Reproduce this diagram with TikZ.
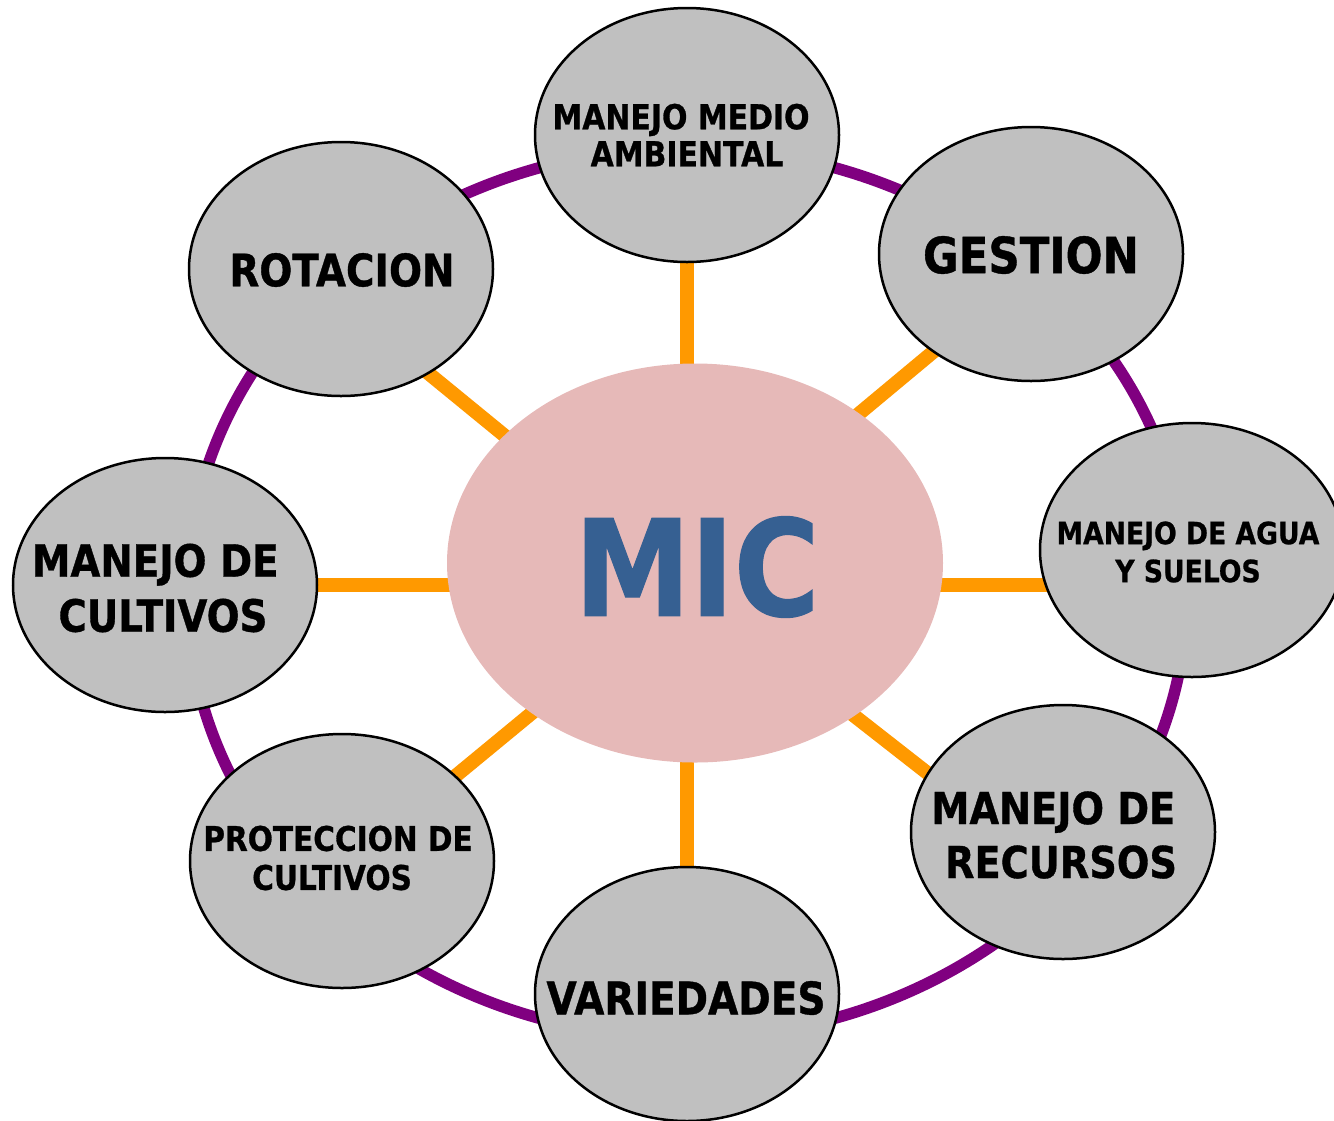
\documentclass[tikz,border=0pt]{standalone}
\usepackage{fontspec}
\newfontfamily\tf{DejaVu Sans Bold}[FakeStretch=0.87,FakeBold=0.8]
\usetikzlibrary{shapes.geometric,calc}
\definecolor{satgray}{HTML}{C0C0C0}
\definecolor{micpink}{HTML}{E6B9B8}
\definecolor{micblue}{HTML}{366092}
\definecolor{spokeorange}{HTML}{FF9900}
\definecolor{ringpurple}{HTML}{800080}
\pgfdeclarelayer{bg}
\pgfsetlayers{bg,main}
\newcommand\trsp{\hbox to 0.348em{}}
\begin{document}
\begin{tikzpicture}[x=1pt,y=-1pt,
  sat/.style={ellipse,draw=black,line width=2.5pt,fill=satgray,
    minimum width=304pt,minimum height=254pt,inner sep=0pt},
  lbl/.style={inner sep=0pt,align=center,text=black},
  spoke/.style={draw=spokeorange,line width=14pt},
  ringline/.style={draw=ringpurple,line width=11.5pt}]
\useasboundingbox (0,0) rectangle (1334,1120);

\node[ellipse,fill=micpink,minimum width=496pt,minimum height=399pt,inner sep=0pt] (mic) at (695,563) {};
\node[lbl,text=micblue,font={\tf\fontsize{134}{134}\selectfont}] (mict) at (697,567) {MIC};

\node[sat] (medio) at (687,135) {};
\node[sat] (gestion) at (1031,254) {};
\node[sat] (agua) at (1192,550) {};
\node[sat] (recursos) at (1063,832) {};
\node[sat] (var) at (687,994) {};
\node[sat] (protec) at (342,861) {};
\node[sat] (cult) at (165,585) {};
\node[sat] (rot) at (341,269) {};

\node[lbl,font={\tf\fontsize{34.4}{37}\selectfont}] (mediot) at (687,135) {MANEJO MEDIO\trsp\\AMBIENTAL};
\node[lbl,font={\tf\fontsize{50}{56}\selectfont}] (gestiont) at (1031,255) {GESTION};
\node[lbl,font={\tf\fontsize{30.6}{38}\selectfont}] (aguat) at (1188,552) {MANEJO DE AGUA\\Y SUELOS};
\node[lbl,font={\tf\fontsize{44}{54}\selectfont}] (recursost) at (1061,835) {MANEJO DE\trsp\\RECURSOS};
\node[lbl,font={\tf\fontsize{44.9}{50}\selectfont}] (vart) at (686,998) {VARIEDADES};
\node[lbl,font={\tf\fontsize{34}{39}\selectfont}] (protect) at (338,858) {PROTECCION DE\\CULTIVOS\trsp};
\node[lbl,font={\tf\fontsize{44.5}{55}\selectfont}] (cultt) at (163,588) {MANEJO DE\trsp\\CULTIVOS};
\node[lbl,font={\tf\fontsize{44.7}{50}\selectfont}] (rott) at (342,270) {ROTACION};

\coordinate (hub) at (687,585);
\coordinate (hubtr) at (687,557);
\coordinate (tl) at (400,350);
\coordinate (tr) at (987,307);
\coordinate (bl) at (407,816);
\coordinate (br) at (967,804);

\begin{pgfonlayer}{bg}
  \draw[ringline] (687,593) ellipse [x radius=500, y radius=445];
  \draw[spoke] (hub) -- (medio.center);
  \draw[spoke] (hub) -- (var.center);
  \draw[spoke] (hub) -- (cult.center);
  \draw[spoke] (hub) -- (agua.center |- hub);
  \draw[spoke] (hub) -- (tl);
  \draw[spoke] (hubtr) -- (tr);
  \draw[spoke] (hub) -- (bl);
  \draw[spoke] (hub) -- (br);
\end{pgfonlayer}
\end{tikzpicture}
\end{document}
